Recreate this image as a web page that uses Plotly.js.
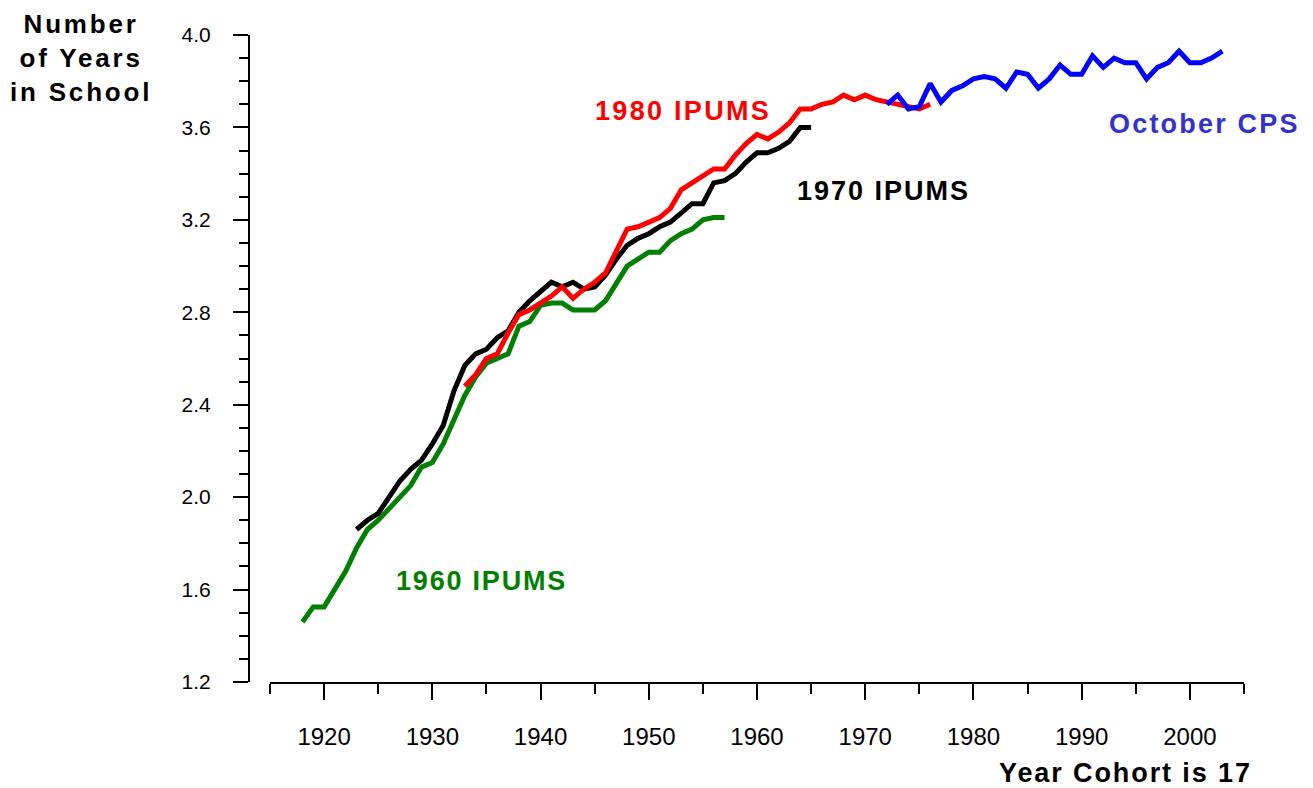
<!DOCTYPE html>
<html>
<head>
<meta charset="utf-8">
<script src="https://cdn.plot.ly/plotly-3.0.1.min.js"></script>
<style>
  html, body { margin: 0; padding: 0; background: #fff; }
  #chart { width: 1313px; height: 788px; }
</style>
</head>
<body>
<div id="chart"></div>
<script>
// ---- data ----
const years1960 = [1918,1919,1920,1921,1922,1923,1924,1925,1926,1927,1928,1929,1930,1931,1932,1933,1934,1935,1936,1937,
                   1938,1939,1940,1941,1942,1943,1944,1945,1946,1947,1948,1949,1950,1951,1952,1953,1954,1955,1956,1957];
const vals1960  = [1.46,1.525,1.525,1.60,1.68,1.78,1.86,1.90,1.95,2.00,2.05,2.13,2.15,2.23,2.33,2.44,2.52,2.58,2.60,2.62,
                   2.74,2.76,2.83,2.84,2.84,2.81,2.81,2.81,2.85,2.93,3.00,3.03,3.06,3.06,3.11,3.14,3.16,3.20,3.21,3.21];

const years1970 = [1923,1924,1925,1926,1927,1928,1929,1930,1931,1932,1933,1934,1935,1936,1937,1938,1939,1940,1941,1942,
                   1943,1944,1945,1946,1947,1948,1949,1950,1951,1952,1953,1954,1955,1956,1957,1958,1959,1960,1961,1962,
                   1963,1964,1965];
const vals1970  = [1.86,1.90,1.93,2.00,2.07,2.12,2.16,2.23,2.31,2.46,2.57,2.62,2.64,2.69,2.72,2.80,2.85,2.89,2.93,2.91,
                   2.93,2.90,2.91,2.96,3.03,3.09,3.12,3.14,3.17,3.19,3.23,3.27,3.27,3.36,3.37,3.40,3.45,3.49,3.49,3.51,
                   3.54,3.60,3.60];

const years1980 = [1933,1934,1935,1936,1937,1938,1939,1940,1941,1942,1943,1944,1945,1946,1947,1948,1949,1950,1951,1952,
                   1953,1954,1955,1956,1957,1958,1959,1960,1961,1962,1963,1964,1965,1966,1967,1968,1969,1970,1971,1972,
                   1973,1974,1975,1976];
const vals1980  = [2.48,2.53,2.60,2.62,2.71,2.79,2.81,2.84,2.87,2.91,2.86,2.90,2.93,2.97,3.07,3.16,3.17,3.19,3.21,3.25,
                   3.33,3.36,3.39,3.42,3.42,3.48,3.53,3.57,3.55,3.58,3.62,3.68,3.68,3.70,3.71,3.74,3.72,3.74,3.72,3.71,
                   3.70,3.69,3.68,3.70];

const yearsCPS  = [1972,1973,1974,1975,1976,1977,1978,1979,1980,1981,1982,1983,1984,1985,1986,1987,1988,1989,1990,1991,
                   1992,1993,1994,1995,1996,1997,1998,1999,2000,2001,2002,2003];
const valsCPS   = [3.70,3.74,3.68,3.69,3.79,3.71,3.76,3.78,3.81,3.82,3.81,3.77,3.84,3.83,3.77,3.81,3.87,3.83,3.83,3.91,
                   3.86,3.90,3.88,3.88,3.81,3.86,3.88,3.93,3.88,3.88,3.90,3.93];

const xTickVals  = [1920,1930,1940,1950,1960,1970,1980,1990,2000];
const xTickText  = ["1920","1930","1940","1950","1960","1970","1980","1990","2000"];
const seriesLabels = ["1960 IPUMS","1970 IPUMS","1980 IPUMS","October CPS"];
const yTitleLines = ["Number","of Years","in School"];
const xTitle = "Year Cohort is 17";

// ---- chart ----
const FONT = "Liberation Sans, Arial, Helvetica, sans-serif";
function line(x, y, color) {
  return { x: x, y: y, type: "scatter", mode: "lines",
           line: { color: color, width: 5 }, hoverinfo: "skip", showlegend: false };
}
const traces = [
  line(years1960, vals1960, "#008000"),
  line(years1970, vals1970, "#000000"),
  line(years1980, vals1980, "#ff0000"),
  line(yearsCPS, valsCPS, "#0000ff")
];

const W = 1313, H = 788, L = 249, R = 69, T = 35, B = 106;
const PW = W - L - R, PH = H - T - B;
const px = v => (v - L) / PW;
const py = v => (H - B - v) / PH;
const spaced = (s, sp) => '<span style="letter-spacing:' + sp + 'px">' + s + '</span>';

function label(text, x, y, color, sp) {
  return { xref: "paper", yref: "paper", x: px(x), y: py(y), xanchor: "center", yanchor: "middle",
           text: spaced(text, sp), showarrow: false,
           font: { family: FONT, size: 27, color: color, weight: 700 } };
}

const layout = {
  width: W, height: H,
  margin: { l: L, r: R, t: T, b: B, pad: 0 },
  paper_bgcolor: "#ffffff", plot_bgcolor: "#ffffff",
  font: { family: FONT, color: "#000" },
  xaxis: {
    domain: [21 / PW, 1],
    range: [1915, 2005],
    showgrid: false, zeroline: false,
    showline: true, linecolor: "#000", linewidth: 2,
    tickmode: "array", tickvals: xTickVals, ticktext: xTickText,
    ticks: "outside", ticklen: 16, tickwidth: 2, tickcolor: "#000",
    ticklabelstandoff: 16,
    tickfont: { family: FONT, size: 24, color: "#000" },
    minor: { tick0: 1915, dtick: 10, ticks: "outside", ticklen: 10, tickwidth: 2, tickcolor: "#000", showgrid: false },
    fixedrange: true
  },
  yaxis: {
    anchor: "free", position: 0,
    range: [1.2, 4.0],
    showgrid: false, zeroline: false,
    showline: true, linecolor: "#000", linewidth: 2,
    tick0: 1.2, dtick: 0.4, tickformat: ".1f",
    ticks: "outside", ticklen: 15, tickwidth: 2, tickcolor: "#000",
    ticklabelstandoff: 18,
    tickfont: { family: FONT, size: 21, color: "#000" },
    minor: { tick0: 1.2, dtick: 0.1, ticks: "outside", ticklen: 9, tickwidth: 2, tickcolor: "#000", showgrid: false },
    fixedrange: true
  },
  annotations: [
    { xref: "paper", yref: "paper", x: px(81), y: py(58), xanchor: "center", yanchor: "middle",
      text: yTitleLines.map(s => spaced(s, 2.8)).join("<br>"), showarrow: false, align: "center",
      font: { family: FONT, size: 26, color: "#000", weight: 700 } },
    { xref: "paper", yref: "paper", x: px(1254), y: py(773), xanchor: "right", yanchor: "middle",
      text: spaced(xTitle, 1.9), showarrow: false,
      font: { family: FONT, size: 27, color: "#000", weight: 700 } },
    label(seriesLabels[0], 481, 581, "#008000", 1.8),
    label(seriesLabels[1], 883, 191, "#000000", 2.0),
    label(seriesLabels[2], 683, 111, "#ff0000", 2.3),
    label(seriesLabels[3], 1204, 124, "#3333cc", 2.2)
  ]
};

Plotly.newPlot("chart", traces, layout, { displayModeBar: false, staticPlot: true });
</script>
</body>
</html>
